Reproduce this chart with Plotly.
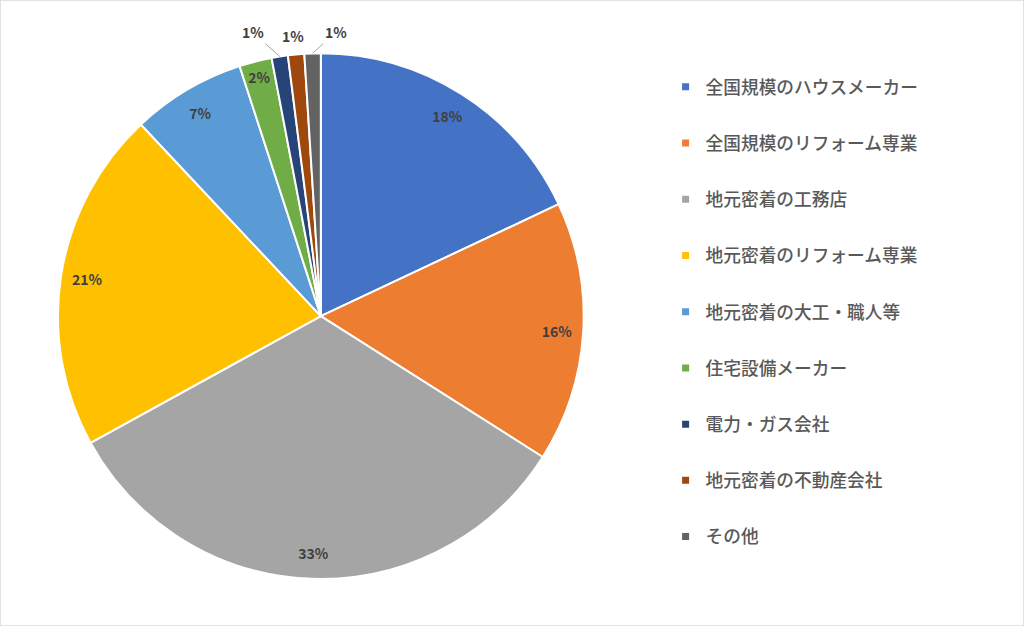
import math
import plotly.graph_objects as go

# 業者の種類ごとの割合 (%)
categories = [
    "全国規模のハウスメーカー",
    "全国規模のリフォーム専業",
    "地元密着の工務店",
    "地元密着のリフォーム専業",
    "地元密着の大工・職人等",
    "住宅設備メーカー",
    "電力・ガス会社",
    "地元密着の不動産会社",
    "その他",
]
shares = [18, 16, 33, 21, 7, 2, 1, 1, 1]
colors = ["#4472C4", "#ED7D31", "#A5A5A5", "#FFC000", "#5B9BD5",
          "#70AD47", "#264478", "#9E480E", "#636363"]

W, H = 1024, 626
jp_font = "Noto Sans CJK JP"
pie_domain = dict(x=[0.0566, 0.570], y=[0.075, 0.915])

label_font = dict(family=jp_font, size=14, color="#404040", weight="bold")

fig = go.Figure()

# the coloured slices
fig.add_trace(go.Pie(
    labels=categories,
    values=shares,
    sort=False,
    direction="clockwise",
    rotation=0,
    marker=dict(colors=colors, line=dict(color="white", width=2)),
    textinfo="none",
    showlegend=False,
    domain=pie_domain,
))

# transparent ring on top, only to place the % labels near the rim (like Excel "inside end")
# the three tiny slices get callout labels below instead
text_pos = ["inside"] * 6 + ["none"] * 3
fig.add_trace(go.Pie(
    labels=categories,
    values=shares,
    sort=False,
    direction="clockwise",
    rotation=0,
    hole=0.8,
    marker=dict(colors=["rgba(0,0,0,0)"] * len(shares), line=dict(width=0)),
    texttemplate="%{value}%",
    textposition=text_pos,
    insidetextorientation="horizontal",
    textfont=label_font,
    hoverinfo="skip",
    showlegend=False,
    domain=pie_domain,
))

# callouts for the 1% slices, anchored on the rim at the middle of each slice
cx = W * sum(pie_domain["x"]) / 2
cy = H * (1 - sum(pie_domain["y"]) / 2)
radius = H * (pie_domain["y"][1] - pie_domain["y"][0]) / 2
callout_offsets = {6: (-27, -24, True), 7: (-3, -18, False), 8: (23, -21, True)}
start = 0
for i, v in enumerate(shares):
    if i in callout_offsets:
        ang = math.radians((start + v / 2) / sum(shares) * 360)
        px = cx + radius * math.sin(ang)
        py = cy - radius * math.cos(ang)
        ax, ay, leader = callout_offsets[i]
        fig.add_annotation(
            x=px / W, y=1 - py / H, xref="paper", yref="paper",
            text=f"{v}%", font=label_font,
            showarrow=True, ax=ax, ay=ay,
            arrowhead=0, arrowwidth=1, standoff=0,
            arrowcolor="#A6A6A6" if leader else "rgba(0,0,0,0)",
        )
    start += v

# legend entries, one group each so they can be spaced out
for name, col in zip(categories, colors):
    fig.add_trace(go.Scatter(
        x=[None], y=[None],
        mode="markers",
        marker=dict(symbol="square", size=7, color=col),
        name=name,
        legendgroup=name,
        showlegend=True,
    ))

fig.update_layout(
    width=W,
    height=H,
    margin=dict(l=0, r=0, t=0, b=0, autoexpand=False),
    paper_bgcolor="white",
    plot_bgcolor="white",
    font=dict(family=jp_font),
    uniformtext=dict(minsize=14, mode="show"),
    xaxis=dict(visible=False),
    yaxis=dict(visible=False),
    legend=dict(
        x=0.650, y=0.890,
        xanchor="left", yanchor="top",
        font=dict(family=jp_font, size=17.7, color="#595959", weight=500),
        tracegroupgap=30.2,
        itemwidth=30,
    ),
    shapes=[dict(
        type="rect", xref="paper", yref="paper",
        x0=0, y0=0, x1=1, y1=1,
        line=dict(color="#D9D9D9", width=1.5),
    )],
)

# page body has a default 8px margin, drop it so the figure fills the window
fig.write_html("out.html", config={"displayModeBar": False},
               post_script="document.body.style.margin='0';")
